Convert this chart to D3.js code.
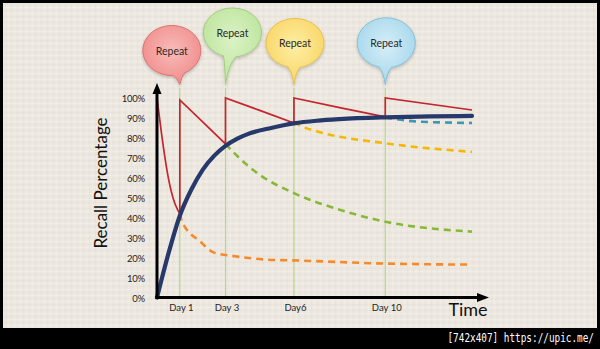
<!DOCTYPE html>
<html>
<head>
<meta charset="utf-8">
<script src="https://cdn.jsdelivr.net/npm/d3@7"></script>
<style>
  html, body { margin: 0; padding: 0; background: #000; }
  svg { display: block; }
</style>
</head>
<body>
<script>
// ---- Data -------------------------------------------------------------
const repeatDays  = [1, 3, 6, 10];
const dayLabels   = ["Day 1", "Day 3", "Day6", "Day 10"];
const bubbleTexts = ["Repeat", "Repeat", "Repeat", "Repeat"];
const yTickValues = [0, 10, 20, 30, 40, 50, 60, 70, 80, 90, 100];

// cumulative retention built up by repetition  [day, recall %]
const retention = [
  [0, 0], [0.5, 22], [1, 41], [1.5, 54], [2, 64], [2.5, 71], [3, 76],
  [3.5, 79.5], [4, 82], [5, 85], [6, 87.3], [7, 88.6], [8, 89.4],
  [10, 90.3], [12, 90.8], [13.8, 91]
];

// recall with reviews: decay, then a jump back up at each repeat
const reviewed = [
  [0, 100], [0.2, 82], [0.48, 61], [0.7, 50], [0.9, 44], [1, 42],
  [1, 99], [2, 88], [3, 77],
  [3, 100], [4.5, 93.8], [6, 87.5],
  [6, 100], [8, 95.2], [10, 90.5],
  [10, 100], [13.8, 94]
];

// forgetting curves if no further review happens after each session
const forgetAfterDay1  = [[1, 42], [1.1, 38], [1.9, 28], [2.5, 22.5], [3.4, 20.7], [4.8, 19], [6.3, 18.5], [10, 17], [13.8, 16.5]];
const forgetAfterDay3  = [[3, 77], [3.6, 70], [4.5, 61.5], [6, 52.3], [8, 44], [10, 38], [13.8, 33]];
const forgetAfterDay6  = [[6, 88], [6.3, 86], [7.1, 83], [10, 77.3], [13.8, 73]];
const forgetAfterDay10 = [[10, 90.3], [11.4, 88.2], [13.8, 87.5]];

// ---- Styles -----------------------------------------------------------
const forgetColors = ["#f5892c", "#88b83a", "#f6b700", "#3d97b5"];
const bubbleStyles = [
  { light: "#f9bcb9", mid: "#f08c8b", stroke: "#d97372" },
  { light: "#dcf2c6", mid: "#bce49b", stroke: "#a0cd7f" },
  { light: "#fdeea5", mid: "#f9d563", stroke: "#e8bf4c" },
  { light: "#d6eef8", mid: "#a5d6eb", stroke: "#82c0db" }
];
// bubble geometry: centre relative to its day line, radii
const bubbleGeom = [
  { dx: -8, cy: 51,   rx: 29, ry: 25,   base: 7 },
  { dx: 7,  cy: 33,   rx: 29, ry: 24.5, base: -3 },
  { dx: 1,  cy: 43.5, rx: 29, ry: 24.5, base: -1 },
  { dx: 1,  cy: 43.3, rx: 29, ry: 25,   base: -1 }
];

const W = 600, H = 349;
const svg = d3.select("body").append("svg").attr("width", W).attr("height", H);
const defs = svg.append("defs");

// linen texture
const pat = defs.append("pattern").attr("id", "linen")
  .attr("patternUnits", "userSpaceOnUse").attr("width", 6).attr("height", 6);
pat.append("rect").attr("width", 6).attr("height", 6).attr("fill", "#ece8df");
pat.append("rect").attr("x", 0).attr("y", 1).attr("width", 6).attr("height", 1).attr("fill", "#f2eee7");
pat.append("rect").attr("x", 0).attr("y", 4).attr("width", 6).attr("height", 1).attr("fill", "#e8e3da");
pat.append("rect").attr("x", 2).attr("y", 0).attr("width", 1).attr("height", 6).attr("fill", "#f2eee7").attr("opacity", 0.5);
pat.append("rect").attr("x", 5).attr("y", 0).attr("width", 1).attr("height", 6).attr("fill", "#e5e0d6").attr("opacity", 0.45);

const shadow = defs.append("filter").attr("id", "shadow")
  .attr("x", "-20%").attr("y", "-20%").attr("width", "140%").attr("height", "150%");
shadow.append("feDropShadow").attr("dx", 0).attr("dy", 1.5)
  .attr("stdDeviation", 1.5).attr("flood-color", "#000").attr("flood-opacity", 0.22);

bubbleStyles.forEach((s, i) => {
  const g = defs.append("radialGradient").attr("id", "bub" + i)
    .attr("cx", "50%").attr("cy", "42%").attr("r", "58%");
  g.append("stop").attr("offset", "0%").attr("stop-color", s.light);
  g.append("stop").attr("offset", "100%").attr("stop-color", s.mid);
});

// frame + background
svg.append("rect").attr("width", W).attr("height", H).attr("fill", "#000");
svg.append("rect").attr("x", 3).attr("y", 3).attr("width", 594).attr("height", 325)
  .attr("fill", "url(#linen)");

// ---- Scales -----------------------------------------------------------
const x = d3.scaleLinear().domain([0, 14.5]).range([157, 488]);
const y = d3.scaleLinear().domain([0, 100]).range([297.5, 98]);

const line = d3.line().x(d => x(d[0])).y(d => y(d[1]));
const smooth = d3.line().x(d => x(d[0])).y(d => y(d[1])).curve(d3.curveMonotoneX);

// day guide lines
svg.append("g").selectAll("line").data(repeatDays).join("line")
  .attr("x1", d => x(d)).attr("x2", d => x(d))
  .attr("y1", 88).attr("y2", 296)
  .attr("stroke", "#b8d48c").attr("stroke-width", 1.2);

// forgetting curves (dashed)
[forgetAfterDay1, forgetAfterDay3, forgetAfterDay6, forgetAfterDay10].forEach((s, i) => {
  svg.append("path").attr("d", smooth(s))
    .attr("fill", "none").attr("stroke", forgetColors[i])
    .attr("stroke-width", 2.6).attr("stroke-dasharray", "7,5");
});

// reviewed recall (sawtooth): split into decay segments at each repeat
const segs = [];
let cur = [];
reviewed.forEach((p, i) => {
  if (i > 0 && p[0] === reviewed[i - 1][0]) { segs.push(cur); cur = []; }
  cur.push(p);
});
segs.push(cur);
let dRed = "";
segs.forEach((s, i) => {
  const gen = i === 0 ? smooth : line;
  const d = gen(s);
  dRed += (i === 0 ? d : "L" + d.slice(1));
});
svg.append("path").attr("d", dRed)
  .attr("fill", "none").attr("stroke", "#c3262e").attr("stroke-width", 1.7)
  .attr("stroke-linejoin", "miter");

// retention curve
svg.append("path").attr("d", smooth(retention))
  .attr("fill", "none").attr("stroke", "#27396a").attr("stroke-width", 4.2)
  .attr("stroke-linecap", "round");

// ---- Axes -------------------------------------------------------------
const axisG = svg.append("g");
axisG.append("line").attr("x1", x(0)).attr("x2", x(0)).attr("y1", y(0) + 1.5).attr("y2", 93)
  .attr("stroke", "#000").attr("stroke-width", 3);
axisG.append("path").attr("d", `M${x(0)},83 L${x(0) - 4.5},94 L${x(0) + 4.5},94 Z`).attr("fill", "#000");
axisG.append("line").attr("x1", x(0) - 1.5).attr("x2", 478).attr("y1", y(0)).attr("y2", y(0))
  .attr("stroke", "#000").attr("stroke-width", 3);
axisG.append("path").attr("d", `M489,${y(0)} L477,${y(0) - 4.5} L477,${y(0) + 4.5} Z`).attr("fill", "#000");

const FONT = "Lato, 'Open Sans', sans-serif";

// y tick labels
const yAxis = d3.axisLeft(y).tickValues(yTickValues).tickSize(0).tickPadding(0)
  .tickFormat(d => d + "%");
const yg = svg.append("g").attr("transform", "translate(145,0.5)").call(yAxis);
yg.select(".domain").remove();
yg.selectAll("text").attr("font-family", FONT).attr("font-size", 9.5)
  .attr("fill", "#1e1e1e").attr("letter-spacing", -0.2);

// day labels
const xAxis = d3.axisBottom(x).tickValues(repeatDays).tickSize(0).tickPadding(0)
  .tickFormat((d, i) => dayLabels[i]);
const xg = svg.append("g").attr("transform", "translate(1,304)").call(xAxis);
xg.select(".domain").remove();
xg.selectAll("text").attr("font-family", FONT).attr("font-size", 9.5).attr("fill", "#1e1e1e");

// axis titles
svg.append("text").attr("transform", "translate(107,183) rotate(-90)")
  .attr("text-anchor", "middle").attr("font-family", FONT).attr("font-size", 17)
  .attr("fill", "#111").text("Recall Percentage");
svg.append("text").attr("x", 468).attr("y", 316).attr("text-anchor", "middle")
  .attr("font-family", FONT).attr("font-size", 18).attr("fill", "#111").text("Time");

// ---- Speech bubbles ---------------------------------------------------
function bubblePath(cx, cy, rx, ry, tipX, tipY, baseX, halfW) {
  const xl = baseX - halfW, xr = baseX + halfW;
  const yOn = xx => cy + ry * Math.sqrt(Math.max(0, 1 - ((xx - cx) / rx) ** 2));
  const yl = yOn(xl) - 0.5, yr = yOn(xr) - 0.5;
  const cl = [xl + (tipX - xl) * 0.7, yl + (tipY - yl) * 0.3];
  const cr = [xr + (tipX - xr) * 0.7, yr + (tipY - yr) * 0.3];
  return `M${xr},${yr} A${rx},${ry} 0 1 0 ${xl},${yl} Q${cl[0]},${cl[1]} ${tipX},${tipY} Q${cr[0]},${cr[1]} ${xr},${yr} Z`;
}

const bubbles = svg.append("g").selectAll("g").data(repeatDays).join("g");
bubbles.append("path")
  .attr("d", (d, i) => {
    const g = bubbleGeom[i];
    const cx = x(d) + g.dx;
    return bubblePath(cx, g.cy, g.rx, g.ry, x(d), 84.5, cx + g.base, 6);
  })
  .attr("fill", (d, i) => `url(#bub${i})`)
  .attr("stroke", (d, i) => bubbleStyles[i].stroke).attr("stroke-width", 1)
  .attr("filter", "url(#shadow)");
bubbles.append("text")
  .attr("x", (d, i) => x(d) + bubbleGeom[i].dx)
  .attr("y", (d, i) => bubbleGeom[i].cy + 3.5)
  .attr("text-anchor", "middle").attr("font-family", FONT).attr("font-size", 10.5)
  .attr("fill", "#2a2a2a").text((d, i) => bubbleTexts[i]);

// ---- Footer -----------------------------------------------------------
svg.append("text").attr("transform", "translate(594,342) scale(0.75,1)")
  .attr("text-anchor", "end")
  .attr("font-family", "'DejaVu Sans Mono', monospace").attr("font-size", 12.5)
  .attr("fill", "#fff")
  .text("[742x407] https://upic.me/");
</script>
</body>
</html>
